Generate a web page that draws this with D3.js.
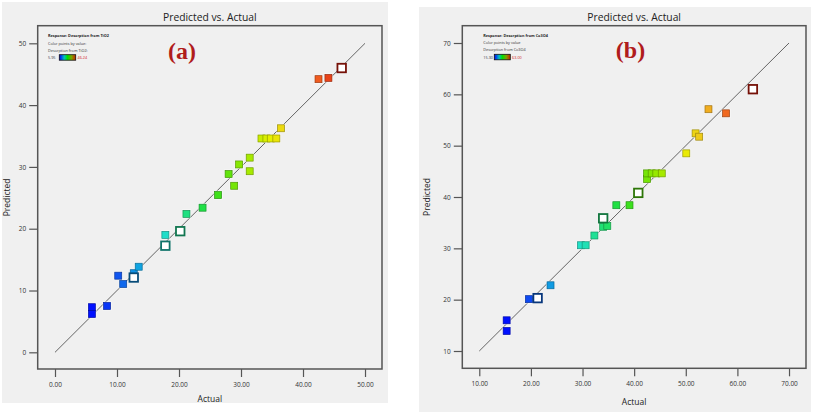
<!DOCTYPE html>
<html><head><meta charset="utf-8">
<script src="https://cdn.jsdelivr.net/npm/d3@7"></script>
<style>
html,body{margin:0;padding:0;background:#fff;}
svg{display:block;font-family:"Open Sans","Noto Sans",sans-serif;}
</style></head>
<body>
<svg id="chart" width="813" height="415"></svg>
<script>
// ---------- DATA ----------
// Panel (a): Desorption from TiO2
const actualA    = [5.95, 5.95, 8.4, 10.2, 11.0, 12.7, 12.7, 13.5, 17.8, 17.8, 20.2, 21.2, 23.8, 26.3, 28.0, 28.9, 29.7, 31.4, 31.4, 33.3, 34.1, 34.8, 35.7, 36.45, 42.5, 44.1, 46.24];
const predictedA = [7.3, 6.2, 7.5, 12.4, 11.05, 12.8, 12.1, 13.85, 19.0, 17.25, 19.6, 22.4, 23.4, 25.45, 28.85, 26.95, 30.4, 31.5, 29.3, 34.6, 34.6, 34.6, 34.6, 36.25, 44.2, 44.4, 46.0];
const replicatedA = [0,0,0,0,0,0,1,0,0,1,1,0,0,0,0,0,0,0,0,0,0,0,0,0,0,0,1];
const rangeA = [5.95, 46.24];
const xTicksA = [0, 10, 20, 30, 40, 50];
const yTicksA = [0, 10, 20, 30, 40, 50];

// Panel (b): Desorption from Co3O4
const actualB    = [15.3, 15.3, 19.6, 21.3, 23.8, 29.7, 30.6, 32.3, 34.0, 34.0, 34.8, 36.55, 39.1, 40.8, 42.5, 42.5, 43.4, 44.3, 45.35, 50.1, 51.9, 52.6, 54.4, 57.8, 63.0];
const predictedB = [13.9, 15.98, 20.1, 20.3, 22.8, 30.6, 30.6, 32.5, 35.85, 34.2, 34.35, 38.4, 38.4, 40.8, 43.5, 44.6, 44.6, 44.6, 44.6, 48.5, 52.4, 51.75, 57.1, 56.3, 61.0];
const replicatedB = [0,0,0,1,0,0,0,0,1,0,0,0,0,1,0,0,0,0,0,0,0,0,0,0,1];
const rangeB = [15.30, 63.00];
const xTicksB = [10, 20, 30, 40, 50, 60, 70];
const yTicksB = [10, 20, 30, 40, 50, 60, 70];

// ---------- COLOUR MAP ----------
const cStops = [0, 0.1, 0.2, 0.3, 0.38, 0.45, 0.52, 0.6, 0.72, 0.8, 0.9, 1];
const cCols  = ["#0010ff","#1050f0","#10b0e0","#20e0c8","#20e080","#20e040","#48e010","#90e800","#e8f000","#f0c020","#f06020","#e02010"];
const cmap = d3.scaleLinear().domain(cStops).range(cCols).interpolate(d3.interpolateRgb).clamp(true);

const svg = d3.select("#chart");
const defs = svg.append("defs");
const grad = defs.append("linearGradient").attr("id","cbar").attr("x1","0%").attr("x2","100%");
[["#0000ff",0],["#00c0c0",0.3],["#00e000",0.5],["#80a000",0.75],["#d02000",1]].forEach(([c,o])=>{
  grad.append("stop").attr("offset",o*100+"%").attr("stop-color",c);
});

function panel(cfg){
  const g = svg.append("g");
  g.append("rect").attr("x",cfg.bg[0]).attr("y",cfg.bg[1]).attr("width",cfg.bg[2]).attr("height",cfg.bg[3]).attr("fill","#f0f0f0");

  const x = d3.scaleLinear().domain(cfg.xDom).range([cfg.frame[0], cfg.frame[2]]);
  const y = d3.scaleLinear().domain(cfg.yDom).range([cfg.frame[3], cfg.frame[1]]);

  // title
  g.append("text").attr("x",(cfg.frame[0]+cfg.frame[2])/2).attr("y",20.5)
    .attr("text-anchor","middle").attr("font-size","10.3px").attr("fill","#222").text("Predicted vs. Actual");

  // axes
  const xa = g.append("g").attr("transform",`translate(0,${cfg.frame[3]})`)
    .call(d3.axisBottom(x).tickValues(cfg.xTicks).tickSize(8).tickPadding(5).tickFormat(d3.format(".2f")));
  const ya = g.append("g").attr("transform",`translate(${cfg.frame[0]},0)`)
    .call(d3.axisLeft(y).tickValues(cfg.yTicks).tickSize(8.5).tickPadding(3).tickFormat(d3.format("d")));
  [xa,ya].forEach(a=>{
    a.select(".domain").remove();
    a.selectAll(".tick line").attr("stroke","#555").attr("stroke-width",1.2);
    a.selectAll(".tick text").attr("fill","#333").attr("font-size","6.5px").attr("font-family","'Open Sans',sans-serif");
  });

  // axis titles
  g.append("text").attr("x",(cfg.frame[0]+cfg.frame[2])/2).attr("y",cfg.xTitleY)
    .attr("text-anchor","middle").attr("font-size","8.5px").attr("fill","#222").text("Actual");
  g.append("text").attr("transform",`translate(${cfg.yTitleX},${(cfg.frame[1]+cfg.frame[3])/2}) rotate(-90)`)
    .attr("text-anchor","middle").attr("font-size","8.5px").attr("fill","#222").text("Predicted");

  // diagonal
  g.append("line").attr("x1",x(cfg.xTicks[0])).attr("y1",y(cfg.yTicks[0]))
    .attr("x2",x(cfg.xTicks[cfg.xTicks.length-1])).attr("y2",y(cfg.yTicks[cfg.yTicks.length-1]))
    .attr("stroke","#555").attr("stroke-width",0.9);

  // points
  const pts = cfg.actual.map((a,i)=>({a, p:cfg.pred[i], r:cfg.rep[i]}));
  const t = v => (v - cfg.range[0])/(cfg.range[1]-cfg.range[0]);
  const s = 7;
  const normal = pts.filter(d=>!d.r), hollow = pts.filter(d=>d.r);
  g.selectAll(".halo").data(normal).enter().append("rect")
    .attr("x",d=>x(d.a)-s/2-1).attr("y",d=>y(d.p)-s/2-1).attr("width",s+2).attr("height",s+2)
    .attr("fill","#ffffff").attr("opacity",0.6);
  g.selectAll(".pt").data(normal).enter().append("rect")
    .attr("x",d=>x(d.a)-s/2).attr("y",d=>y(d.p)-s/2).attr("width",s).attr("height",s)
    .attr("fill",d=>cmap(t(d.a))).attr("stroke",d=>d3.color(cmap(t(d.a))).darker(1.2)).attr("stroke-width",0.7);
  const hs = 8.5;
  g.selectAll(".hpt").data(hollow).enter().append("rect")
    .attr("x",d=>x(d.a)-hs/2).attr("y",d=>y(d.p)-hs/2).attr("width",hs).attr("height",hs)
    .attr("fill","#ffffff").attr("stroke",d=>d3.color(cmap(t(d.a))).darker(1.8)).attr("stroke-width",1.8);

  // frame
  g.append("rect").attr("x",cfg.frame[0]).attr("y",cfg.frame[1])
    .attr("width",cfg.frame[2]-cfg.frame[0]).attr("height",cfg.frame[3]-cfg.frame[1])
    .attr("fill","none").attr("stroke","#555").attr("stroke-width",1.5);

  // legend
  const lx = cfg.legend[0], ly = cfg.legend[1];
  const lf = "3.8px";
  g.append("text").attr("x",lx).attr("y",ly).attr("font-size",lf).attr("font-weight","bold").attr("fill","#222").text(cfg.lines[0]);
  g.append("text").attr("x",lx).attr("y",ly+7.3).attr("font-size",lf).attr("fill","#333").text(cfg.lines[1]);
  g.append("text").attr("x",lx).attr("y",ly+14.3).attr("font-size",lf).attr("fill","#333").text(cfg.lines[2]);
  g.append("text").attr("x",lx).attr("y",ly+21.8).attr("font-size",lf).attr("fill","#334").text(d3.format(".2f")(cfg.range[0]));
  g.append("rect").attr("x",cfg.bar[0]).attr("y",ly+17.5).attr("width",cfg.bar[1]).attr("height",5.5)
    .attr("fill","url(#cbar)").attr("stroke","#111").attr("stroke-width",0.8);
  g.append("text").attr("x",cfg.bar[0]+cfg.bar[1]+1.8).attr("y",ly+21.8).attr("font-size",lf).attr("fill","#d02020").text(d3.format(".2f")(cfg.range[1]));

  // panel tag
  g.append("text").attr("x",cfg.tag[0]).attr("y",cfg.tag[1]).attr("text-anchor","middle")
    .attr("font-family","'Liberation Serif','Times New Roman',serif").attr("font-weight","bold")
    .attr("font-size","24px").attr("fill","#b01c1c").text(cfg.tag[2]);
}

panel({
  bg:[2,2,386,401], frame:[37.7,25.7,382,369],
  xDom:[-2.79,52.74], yDom:[-2.7,52.85],
  xTicks:xTicksA, yTicks:yTicksA, xTitleY:401.5, yTitleX:10,
  actual:actualA, pred:predictedA, rep:replicatedA, range:rangeA,
  legend:[48,37.2], bar:[59.3,16.4],
  lines:["Response: Desorption from TiO2","Color points by value:","Desorption from TiO2:"],
  tag:[182,59,"(a)"]
});
panel({
  bg:[419,7,392,405], frame:[462.3,25.7,806,368.3],
  xDom:[6.71,73.29], yDom:[6.63,73.37],
  xTicks:xTicksB, yTicks:yTicksB, xTitleY:404.5, yTitleX:430,
  actual:actualB, pred:predictedB, rep:replicatedB, range:rangeB,
  legend:[483.3,36.8], bar:[494.3,16],
  lines:["Response: Desorption from Co3O4","Color points by value","Desorption from Co3O4"],
  tag:[630.5,58,"(b)"]
});
</script>
</body></html>
